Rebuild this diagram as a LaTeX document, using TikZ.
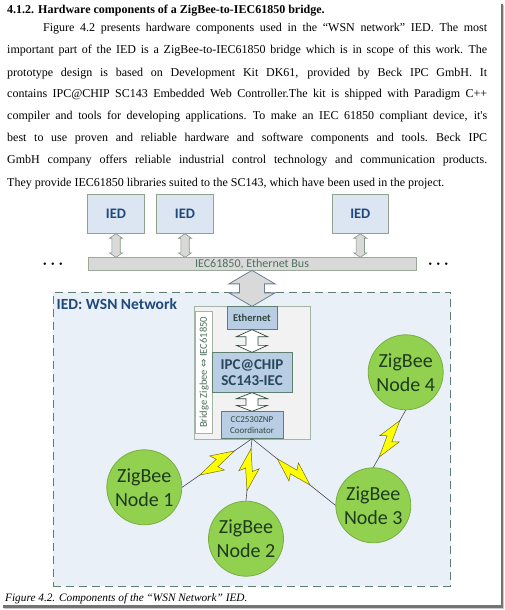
\documentclass[tikz,border=0pt]{standalone}
\usepackage{fontspec}
\setmainfont{Liberation Serif}
\newfontfamily\calfont{Carlito}
\newfontfamily\dvsfont{DejaVu Sans}
\usetikzlibrary{calc}
\definecolor{iedfill}{HTML}{DCE6F2}
\definecolor{iedborder}{HTML}{8FA38F}
\definecolor{darkblue}{HTML}{1F497D}
\definecolor{busfill}{HTML}{D9D9D9}
\definecolor{busborder}{HTML}{9CA89C}
\definecolor{bustext}{HTML}{4F6F5F}
\definecolor{arrborder}{HTML}{7F9A85}
\definecolor{wsnfill}{HTML}{EAF0F8}
\definecolor{wsnborder}{HTML}{5E7E6E}
\definecolor{bridgefill}{HTML}{F2F2F2}
\definecolor{bridgeborder}{HTML}{A5B5A5}
\definecolor{compfill}{HTML}{B9CDE5}
\definecolor{compborder}{HTML}{5F7F6F}
\definecolor{comptext}{HTML}{2F4A3F}
\definecolor{ipctext}{HTML}{27485A}
\definecolor{zbfill}{HTML}{92D050}
\definecolor{zbborder}{HTML}{78AE40}
\definecolor{zbtext}{HTML}{1D3B1D}
\definecolor{bigarrow}{HTML}{6B7F95}
\definecolor{boltyellow}{HTML}{FFFF00}
\definecolor{boltedge}{HTML}{6F6F20}
\newcommand\jline[1]{\hbox to 480pt{#1}}
\newcommand\lline[1]{\hbox to 480pt{#1\hfil}}
\begin{document}
\begin{tikzpicture}[x=1pt,y=-1pt,
  dbl/.style n args={3}{to path={
    -- ++(#2,#3) -- ++({#1-#2},0) -- ($(\tikztotarget)+(#1,-#3)$) -- ++({#2-#1},0)
    -- (\tikztotarget) -- ++(-#2,-#3) -- ++({#2-#1},0) -- ($(\tikztostart)+(-#1,#3)$)
    -- ++({#1-#2},0) -- cycle}},
  iedbox/.style={draw=iedborder, fill=iedfill, line width=0.8pt, minimum width=56.6pt,
    minimum height=39pt, inner sep=0pt, text=darkblue,
    font=\calfont\bfseries\fontsize{14.5}{16}\selectfont},
  smallarr/.style={draw=arrborder, fill=busfill, line width=0.6pt, line join=miter, dbl={4.2}{6.5}{4.5}},
  bigarr/.style={draw=bigarrow, fill=busfill, line width=0.8pt, line join=miter, dbl={12.5}{23}{13.5}},
  whitearr/.style={draw=comptext, fill=white, line width=0.7pt, line join=miter},
  compbox/.style={draw=compborder, fill=compfill, line width=0.7pt, inner sep=0pt, align=center},
  zbnode/.style={circle, draw=zbborder, fill=zbfill, line width=0.8pt, minimum size=75pt,
    inner sep=0pt, align=center, text=zbtext, font=\calfont\fontsize{20}{24}\selectfont},
  link/.style={draw=black!70, line width=0.6pt},
  dots/.style={inner sep=0pt, font=\fontsize{10}{10}\selectfont},
  bolt/.pic={\filldraw[fill=boltyellow, draw=boltedge, line width=0.5pt, line join=miter]
    (-21,0) -- (2,10) -- (-1.5,3.5) -- (21,0) -- (-2,-10) -- (1.5,-3.5) -- cycle;}
]
\useasboundingbox (0,0) rectangle (504,610);
\fill[white] (0,0) rectangle (504,610);
% page shadow
\fill[black!55] (500.8,4) rectangle (503,607.5);
\fill[black!55] (3,605.3) rectangle (503,607.5);
\fill[black!20] (503,5) rectangle (504,609);
\fill[black!20] (4,607.5) rectangle (504,609);

% heading and text
\node[anchor=base west, inner sep=0pt, font=\bfseries\fontsize{12}{14}\selectfont] (head) at (7,13.5)
  {4.1.2. Hardware components of a ZigBee-to-IEC61850 bridge.};
\node[anchor=base west, inner sep=0pt, font=\fontsize{12}{22}\selectfont] (body) at (7,32)
 {\spaceskip=0.25em plus 0.6em minus 0.12em \xspaceskip=0.3em plus 0.6em minus 0.12em
 \vtop{\baselineskip=22pt
 \jline{\hskip36pt Figure 4.2 presents hardware components used in the “WSN network” IED. The most}
 \jline{important part of the IED is a ZigBee-to-IEC61850 bridge which is in scope of this work. The}
 \jline{prototype design is based on Development Kit DK61, provided by Beck IPC GmbH. It}
 \jline{contains IPC@CHIP SC143 Embedded Web Controller.The kit is shipped with Paradigm C++}
 \jline{compiler and tools for developing applications. To make an IEC 61850 compliant device, it\textquotesingle s}
 \jline{best to use proven and reliable hardware and software components and tools. Beck IPC}
 \jline{GmbH company offers reliable industrial control technology and communication products.}
 \lline{They provide IEC61850 libraries suited to the SC143, which have been used in the project.}}};

% IEDs and bus
\node[iedbox] (ied1) at (116,213.8) {IED};
\node[iedbox] (ied2) at (185,213.8) {IED};
\node[iedbox] (ied3) at (360.3,213.8) {IED};
\node[draw=busborder, fill=busfill, line width=0.7pt, minimum width=328.3pt, minimum height=12.3pt,
  inner sep=0pt, text=bustext, font=\calfont\fontsize{12}{12}\selectfont] (bus) at (252,263.85)
  {IEC61850, Ethernet Bus};
\node[dots] (dl) at (53,265) {\textbullet\hspace{4.5pt}\textbullet\hspace{4.5pt}\textbullet};
\node[dots] (dr) at (438.3,265) {\textbullet\hspace{4.5pt}\textbullet\hspace{4.5pt}\textbullet};
\coordinate (b1) at (ied1.south |- bus.north);
\coordinate (b2) at (ied2.south |- bus.north);
\coordinate (b3) at (ied3.south |- bus.north);
\draw[smallarr] (ied1.south) to (b1);
\draw[smallarr] (ied2.south) to (b2);
\draw[smallarr] (ied3.south) to (b3);

% WSN network IED
\node[draw=wsnborder, fill=wsnfill, dash pattern=on 8pt off 5pt, line width=0.9pt,
  minimum width=397.4pt, minimum height=293.7pt, inner sep=0pt] (wsn) at (252,439.15) {};
\node[anchor=base west, inner sep=0pt, text=darkblue, font=\calfont\bfseries\fontsize{15.5}{17}\selectfont]
  (wsnlabel) at (56.5,309.3) {IED: WSN Network};
\node[draw=bridgeborder, fill=bridgefill, line width=0.7pt, minimum width=115.7pt,
  minimum height=132.3pt, inner sep=0pt] (bridge) at (252.15,372.85) {};
\node[draw=bridgeborder, fill=white, line width=0.6pt, rotate=90, minimum width=121.3pt,
  minimum height=17pt, inner sep=0pt, text=bustext, font=\calfont\fontsize{10.5}{12}\selectfont]
  (blabel) at (204.2,372.35) {Bridge Zigbee {\dvsfont\fontsize{10}{10}\selectfont ⇔} IEC61850};
\node[compbox, minimum width=50pt, minimum height=22.6pt, text=comptext,
  font=\calfont\bfseries\fontsize{10.5}{12}\selectfont] (eth) at (252,318) {Ethernet};
\node[compbox, minimum width=80pt, minimum height=39.6pt, text=ipctext,
  font=\calfont\bfseries\fontsize{15}{16}\selectfont] (ipc) at (252,372.5) {IPC@CHIP\\SC143-IEC};
\node[compbox, minimum width=62.3pt, minimum height=26.6pt, text=comptext,
  font=\calfont\fontsize{9}{11}\selectfont] (cc) at (252,425) {CC2530ZNP\\Coordinator};
\draw[whitearr, dbl={6}{15.5}{7}] (eth.south) to (ipc.north);
\draw[whitearr, dbl={6}{15.5}{6}] (ipc.south) to (cc.north);
\draw[bigarr] (bus.south) to (eth.north);

% ZigBee nodes
\node[zbnode] (n1) at (144.3,487.3) {ZigBee\\Node 1};
\node[zbnode] (n2) at (246,538.7) {ZigBee\\Node 2};
\node[zbnode] (n3) at (373.3,505.3) {ZigBee\\Node 3};
\node[zbnode] (n4) at (405.7,372.3) {ZigBee\\Node 4};
\draw[link] (cc.south) -- (n1.east) pic[pos=0.5, sloped] {bolt};
\draw[link] (cc.south) -- (n2.north) pic[pos=0.5, sloped] {bolt};
\draw[link] (cc.south) -- (n3.west) pic[pos=0.5, sloped] {bolt};
\draw[link] (n3.north) -- (n4.south) pic[pos=0.5, sloped] {bolt};

% caption
\node[anchor=base west, inner sep=0pt, font=\itshape\fontsize{11.3}{13}\selectfont] (cap) at (5,601.5)
  {Figure 4.2. Components of the “WSN Network” IED.};
\end{tikzpicture}
\end{document}
